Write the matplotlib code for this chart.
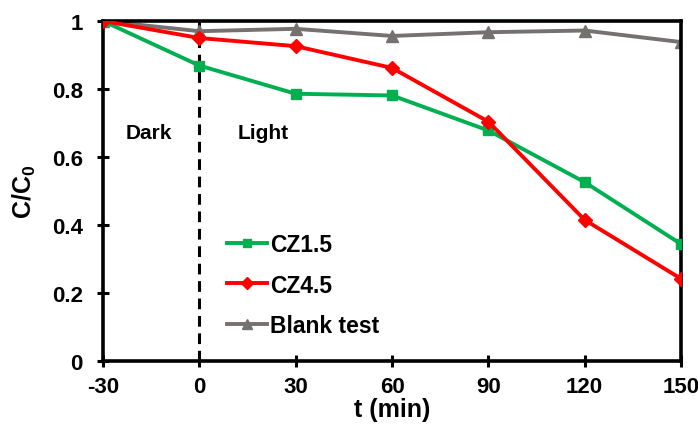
import numpy as np
import matplotlib.pyplot as plt

plt.rcParams['font.family'] = ['Liberation Sans', 'DejaVu Sans']
plt.rcParams['font.weight'] = 'bold'
plt.rcParams['axes.unicode_minus'] = False
plt.rcParams['mathtext.fontset'] = 'custom'
plt.rcParams['mathtext.rm'] = 'Liberation Sans:bold'
plt.rcParams['mathtext.bf'] = 'Liberation Sans:bold'

t = [-30, 0, 30, 60, 90, 120, 150]
cz15 = [1.0, 0.869, 0.786, 0.781, 0.678, 0.526, 0.344]
cz45 = [1.0, 0.950, 0.926, 0.862, 0.704, 0.415, 0.242]
blank = [1.0, 0.970, 0.977, 0.956, 0.967, 0.972, 0.938]

fig = plt.figure(figsize=(6.98, 4.27), dpi=100)
ax = fig.add_axes([103 / 698, 65 / 427, 578 / 698, 340 / 427])

ax.plot(t, cz15, color='#00b050', marker='s', ms=7, lw=2.8, label='CZ1.5', zorder=3)
ax.plot(t, cz45, color='#ff0000', marker='D', ms=7.5, lw=2.8, label='CZ4.5', zorder=4)
ax.plot(t, blank, color='#767171', marker='^', ms=8, lw=2.8, label='Blank test', zorder=2)

ax.axvline(0, color='black', ls=(0, (3.5, 2.2)), lw=2.2, zorder=1)
ax.text(-23.1, 0.656, 'Dark', fontsize=15, fontweight='bold')
ax.text(12.0, 0.656, 'Light', fontsize=15, fontweight='bold')

ax.set_xlim(-30, 150)
ax.set_ylim(0, 1)
ax.set_xticks(t)
ax.set_yticks([0, 0.2, 0.4, 0.6, 0.8, 1])
ax.set_yticklabels(['0', '0.2', '0.4', '0.6', '0.8', '1'])
ax.tick_params(direction='inout', length=9, width=2.2, labelsize=16)
ax.tick_params(axis='y', pad=10)
ax.tick_params(axis='x', pad=6)
for s in ax.spines.values():
    s.set_linewidth(2.6)

ax.set_xlabel('t (min)', fontsize=18, fontweight='bold', labelpad=0)
ax.set_ylabel('C/C$_\\mathbf{0}$', fontsize=18, fontweight='bold', labelpad=10)

ax.legend(loc='center left', bbox_to_anchor=(0.178, 0.2235), frameon=False, fontsize=16.5,
          handlelength=1.75, handletextpad=0.15, labelspacing=0.75, markerscale=0.85)

fig.savefig('out.png', dpi=100)
